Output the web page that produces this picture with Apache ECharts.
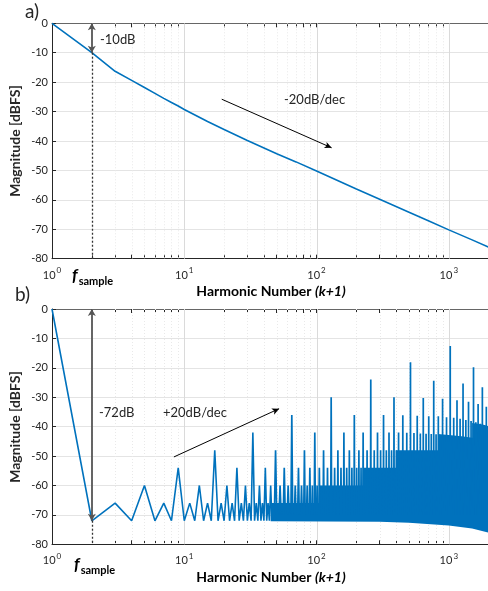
<!DOCTYPE html>
<html><head><meta charset="utf-8">
<script src="https://cdn.jsdelivr.net/npm/echarts@6/dist/echarts.min.js"></script>
<style>html,body{margin:0;padding:0;background:#fff}#c{width:488px;height:591px}</style>
</head><body><div id="c"></div>
<script>
// ---- axis ticks ----
const decadeLabels = [1, 10, 100, 1000];
const minorTicks = [2,3,4,5,6,7,8,9,20,30,40,50,60,70,80,90,200,300,400,500,600,700,800,900,2000];
const xTickValues = [1,2,3,4,5,6,7,8,9,10,20,30,40,50,60,70,80,90,100,200,300,400,500,600,700,800,900,1000,2000];
const xMin = 1, xMax = 2048;
const yMin = -80, yMax = 0, yStep = 10;

// ---- panel a) magnitude curve ----
const curveN  = [1, 2, 3, 4, 5, 6, 7, 8, 9, 10, 15, 20, 30, 50, 70, 100, 200, 300, 500, 700, 1000, 1500, 2048];
const curveDb = [0, -10, -16.3, -19.4, -21.8, -23.8, -25.5, -26.9, -28.1, -29.3, -33.4, -36.1, -39.8, -44.3, -47.1, -50.2, -56.3, -59.8, -64.2, -67.1, -70.2, -73.6, -76.3];

// ---- panel b) harmonics, resolved low-order part ----
const harmN  = [1,2,3,4,5,6,7,8,9,10,11,12,13,14,15,16,17,18,19,20,21,22,23,24,25,26,27,28,29,30,31,32,33,34,35,36,37,38,39,40,41,42,43,44,45,46,47,48];
const harmDb = [0,-72,-66,-72,-60,-72,-66,-72,-54,-72,-66,-72,-60,-72,-66,-72,-48,-72,-66,-72,-60,-72,-66,-72,-54,-72,-66,-72,-60,-72,-66,-72,-42,-72,-66,-72,-60,-72,-66,-72,-54,-72,-66,-72,-60,-72,-66,-72];

// dense region: upper and lower edge of the filled mass
const bandTopN  = [45, 106, 106, 224, 224, 400, 400, 828, 828, 1000, 1250, 1500, 1500, 1800, 2048];
const bandTopDb = [-66, -66, -60, -60, -54, -54, -48, -48, -42.5, -42.8, -43.3, -43.8, -38.8, -39.3, -40];
const bandLowN  = [2048, 1500, 1000, 500, 300, 45];
const bandLowDb = [-76.2, -74.6, -73.6, -72.7, -72.3, -72.2];

// spikes standing above the dense mass
const spikeN  = [49,53,57,61,65,69,73,77,81,85,89,93,97,101,105,
  113,121,129,137,145,153,161,169,177,185,193,201,209,217,225,
  241,257,273,289,305,321,337,353,369,385,401,
  417,449,481,513,545,577,609,641,673,705,737,769,801,
  833,897,961,1025,1089,1153,1217,1281,1345,1409,1473,1537,1601,1665,1729,1793,1857,1921,1985];
const spikeDb = [-48,-60,-54,-60,-36,-60,-54,-60,-48,-60,-54,-60,-42,-60,-54,
  -48,-54,-30,-54,-48,-54,-42,-54,-48,-54,-36,-54,-48,-54,-42,
  -48,-24,-48,-42,-48,-36,-48,-42,-48,-30,-48,
  -42,-36.1,-42.1,-18.1,-42.2,-36.3,-42.3,-30.3,-42.4,-36.5,-42.5,-24.4,-42.6,
  -36.5,-30.5,-36.8,-12.6,-37,-31,-37.3,-25.3,-37.7,-31.5,-38.1,-19.8,-38.5,-32.3,-39,-26.6,-39.5,-33.2,-40];
const spikeBase = -70;

// ---- annotations (data coordinates) ----
const fSample = 2;
const gapA = [0, -10];
const gapB = [0, -72];
const slopeA = [[19.2, -25.8], [130, -42.3]];
const slopeB = [[8.35, -50.3], [52.1, -33.9]];

const FONT = 'Lato, "Open Sans", sans-serif';
const TXT = '#262626';
const BLUE = '#0072BD';

const grids = [
  {left: 52, top: 23.3, width: 438, height: 235.4},
  {left: 52, top: 309, width: 438, height: 235.3}
];

function xAxes(gi) {
  const base = {
    type: 'log', logBase: 10, gridIndex: gi, min: xMin, max: xMax
  };
  return [
    Object.assign({}, base, {
      position: 'bottom',
      axisLine: {show: true, onZero: false, lineStyle: {color: TXT, width: 1}},
      axisTick: {show: true, inside: true, length: 4, customValues: xTickValues, lineStyle: {color: TXT}},
      axisLabel: {
        customValues: decadeLabels, margin: 8,
        formatter: v => '{b|10}{e|' + Math.round(Math.log10(v)) + '}',
        rich: {
          b: {fontSize: 11, color: TXT, fontFamily: FONT, lineHeight: 14, verticalAlign: 'bottom'},
          e: {fontSize: 8, color: TXT, fontFamily: FONT, lineHeight: 14, verticalAlign: 'top', padding: [0, 0, 6, 1]}
        }
      },
      splitLine: {show: false}
    }),
    Object.assign({}, base, {
      position: 'top',
      axisLine: {show: true, onZero: false, lineStyle: {color: '#666', width: 1}},
      axisTick: {show: true, inside: true, length: 4, customValues: xTickValues, lineStyle: {color: TXT}},
      axisLabel: {show: false},
      splitLine: {show: false}
    })
  ];
}

function yAxis(gi) {
  return {
    type: 'value', gridIndex: gi, min: yMin, max: yMax, interval: yStep,
    axisLine: {show: true, onZero: false, lineStyle: {color: TXT, width: 1}},
    axisTick: {show: true, inside: true, length: 4, lineStyle: {color: TXT}},
    axisLabel: {fontSize: 11, color: TXT, fontFamily: FONT, margin: 4},
    splitLine: {show: true, lineStyle: {color: '#e4e4e4', width: 1}}
  };
}

function vGrid(xi, yi) {
  return {
    type: 'custom', xAxisIndex: xi, yAxisIndex: yi, z: 1, silent: true,
    data: decadeLabels.slice(1).concat(minorTicks).map(v => [v, yMin]),
    renderItem: (p, api) => {
      const v = api.value(0);
      const c = api.coord([v, yMin]);
      const cs = p.coordSys;
      const minor = minorTicks.indexOf(v) >= 0;
      const x = Math.round(c[0]) + 0.5;
      return {type: 'line', shape: {x1: x, y1: cs.y, x2: x, y2: cs.y + cs.height},
        style: minor ? {stroke: '#e9e9e9', lineWidth: 1, lineDash: [1, 2]} : {stroke: '#dadada', lineWidth: 1}};
    }
  };
}

function annot(gap, slope) {
  return {
    silent: true, symbol: ['none', 'none'], label: {show: false}, animation: false,
    data: [
      [{coord: [fSample, gap[0]], symbol: 'arrow', symbolSize: [6, 7], lineStyle: {color: '#555', width: 1.8, type: 'solid'}},
       {coord: [fSample, gap[1]], symbol: 'arrow', symbolSize: [6, 7]}],
      [{coord: [fSample, gap[1]], symbol: 'none', lineStyle: {color: '#333', width: 1.3, type: [2, 2]}},
       {coord: [fSample, yMin], symbol: 'none'}],
      [{coord: slope[0], symbol: 'none', lineStyle: {color: '#000', width: 1, type: 'solid'}},
       {coord: slope[1], symbol: 'arrow', symbolSize: [5, 7]}]
    ]
  };
}

function txt(x, y, text, extra) {
  return {type: 'text', x: x, y: y, z: 100, zlevel: 0,
    style: Object.assign({text: text, fontSize: 13, fontFamily: FONT, fill: TXT, verticalAlign: 'middle'}, extra || {})};
}

const fsRich = {
  f: {fontSize: 17, fontWeight: 'bold', fontStyle: 'italic', fontFamily: FONT, color: TXT, lineHeight: 18, verticalAlign: 'bottom'},
  s: {fontSize: 11, fontWeight: 'bold', fontFamily: FONT, color: TXT, lineHeight: 18, verticalAlign: 'bottom', padding: [0, 0, -3, 1]}
};
const hnRich = {
  n: {fontSize: 14, fontWeight: 'bold', fontFamily: FONT, color: TXT},
  i: {fontSize: 14, fontWeight: 'bold', fontStyle: 'italic', fontFamily: FONT, color: TXT}
};

const chart = echarts.init(document.getElementById('c'), null, {renderer: 'canvas'});
chart.setOption({
  animation: false,
  backgroundColor: '#fff',
  grid: grids.map(g => Object.assign({outerBoundsMode: 'none', containLabel: false}, g)),
  xAxis: [...xAxes(0), ...xAxes(1)],
  yAxis: [yAxis(0), yAxis(1)],
  series: [
    vGrid(0, 0),
    vGrid(2, 1),
    {
      type: 'line', xAxisIndex: 0, yAxisIndex: 0, z: 3,
      data: curveN.map((n, i) => [n, curveDb[i]]),
      showSymbol: false, symbol: 'none',
      lineStyle: {color: BLUE, width: 1.6},
      markLine: annot(gapA, slopeA)
    },
    {
      type: 'custom', xAxisIndex: 2, yAxisIndex: 1, z: 2, silent: true,
      data: [[bandTopN[0], bandTopDb[0]]],
      renderItem: (p, api) => {
        const pts = [];
        bandTopN.forEach((n, i) => pts.push(api.coord([n, bandTopDb[i]])));
        bandLowN.forEach((n, i) => pts.push(api.coord([n, bandLowDb[i]])));
        return {type: 'polygon', shape: {points: pts}, style: {fill: BLUE}};
      }
    },
    {
      type: 'custom', xAxisIndex: 2, yAxisIndex: 1, z: 3, silent: true,
      data: spikeN.map((n, i) => [n, spikeDb[i]]),
      renderItem: (p, api) => {
        const n = api.value(0), v = api.value(1);
        return {type: 'polyline', shape: {points: [api.coord([n - 1, spikeBase]), api.coord([n, v]), api.coord([n + 1, spikeBase])]},
          style: {stroke: BLUE, lineWidth: 1.7, fill: null}};
      }
    },
    {
      type: 'line', xAxisIndex: 2, yAxisIndex: 1, z: 3,
      data: harmN.map((n, i) => [n, harmDb[i]]),
      showSymbol: false, symbol: 'none',
      lineStyle: {color: BLUE, width: 1.6},
      markLine: annot(gapB, slopeB)
    }
  ],
  graphic: [
    txt(25, 12, 'a)', {fontSize: 19}),
    txt(15, 295, 'b)', {fontSize: 19}),
    {type: 'text', x: 15, y: 141, z: 100, rotation: Math.PI / 2, style: {text: 'Magnitude [dBFS]', fontSize: 14, fontWeight: 'bold', fontFamily: FONT, fill: TXT, align: 'center', verticalAlign: 'middle'}},
    {type: 'text', x: 15, y: 427, z: 100, rotation: Math.PI / 2, style: {text: 'Magnitude [dBFS]', fontSize: 14, fontWeight: 'bold', fontFamily: FONT, fill: TXT, align: 'center', verticalAlign: 'middle'}},
    {type: 'text', x: 271, y: 291.5, z: 100, style: {text: '{n|Harmonic Number }{i|(k+1)}', align: 'center', verticalAlign: 'middle', rich: hnRich}},
    {type: 'text', x: 271, y: 577, z: 100, style: {text: '{n|Harmonic Number }{i|(k+1)}', align: 'center', verticalAlign: 'middle', rich: hnRich}},
    {type: 'text', x: 72, y: 266, z: 100, style: {text: '{f|f}{s|sample}', rich: fsRich}},
    {type: 'text', x: 74, y: 555, z: 100, style: {text: '{f|f}{s|sample}', rich: fsRich}},
    txt(100, 40, '-10dB'),
    txt(284, 100, '-20dB/dec'),
    txt(99, 413, '-72dB'),
    txt(163, 413, '+20dB/dec')
  ]
});
</script></body></html>
